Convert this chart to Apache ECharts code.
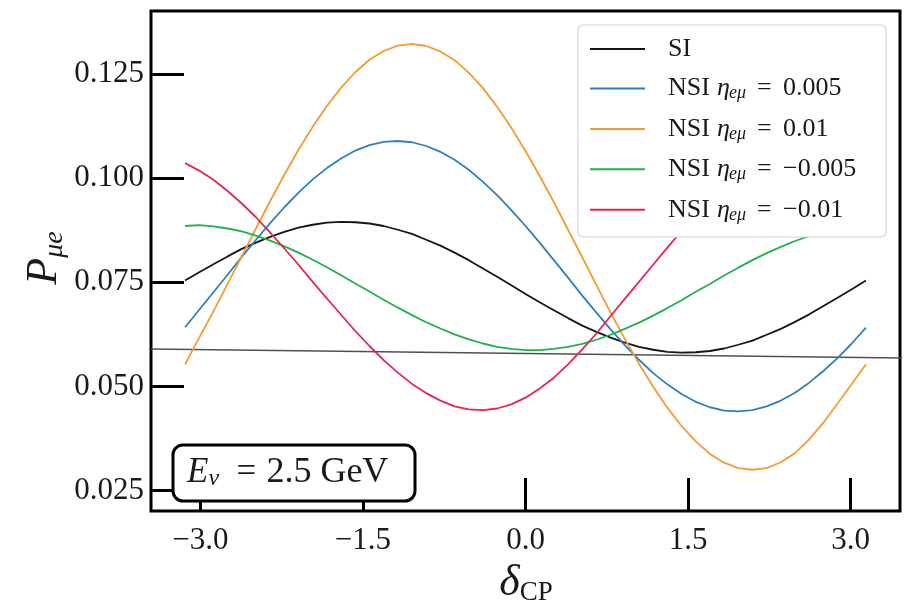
<!DOCTYPE html>
<html>
<head>
<meta charset="utf-8">
<script src="https://cdn.jsdelivr.net/npm/echarts@6/dist/echarts.min.js"></script>
<style>
html,body{margin:0;padding:0;background:#fff;}
#chart{width:904px;height:605px;}
</style>
</head>
<body>
<div id="chart"></div>
<script>
// ---- data (delta_CP in radians, step pi/24; P_mu_e) ----
const deltaCP = [
  -3.1416, -3.0107, -2.8798, -2.7489, -2.6180, -2.4871, -2.3562, -2.2253, -2.0944, -1.9635, -1.8326, -1.7017,
  -1.5708, -1.4399, -1.3090, -1.1781, -1.0472, -0.9163, -0.7854, -0.6545, -0.5236, -0.3927, -0.2618, -0.1309,
  0.0000, 0.1309, 0.2618, 0.3927, 0.5236, 0.6545, 0.7854, 0.9163, 1.0472, 1.1781, 1.3090, 1.4399,
  1.5708, 1.7017, 1.8326, 1.9635, 2.0944, 2.2253, 2.3562, 2.4871, 2.6180, 2.7489, 2.8798, 3.0107, 3.1416];
const pSI = [
  0.0754, 0.0774, 0.0793, 0.0812, 0.0830, 0.0845, 0.0859, 0.0871, 0.0881, 0.0888, 0.0893, 0.0895,
  0.0894, 0.0891, 0.0885, 0.0876, 0.0866, 0.0852, 0.0838, 0.0821, 0.0803, 0.0783, 0.0763, 0.0743,
  0.0722, 0.0702, 0.0683, 0.0664, 0.0646, 0.0631, 0.0617, 0.0605, 0.0595, 0.0588, 0.0583, 0.0581,
  0.0582, 0.0585, 0.0591, 0.0600, 0.0610, 0.0624, 0.0638, 0.0655, 0.0673, 0.0693, 0.0713, 0.0733, 0.0754];
const pNSIp005 = [
  0.0642, 0.0684, 0.0726, 0.0768, 0.0811, 0.0852, 0.0892, 0.0930, 0.0965, 0.0997, 0.1024, 0.1047,
  0.1066, 0.1079, 0.1087, 0.1089, 0.1086, 0.1077, 0.1063, 0.1044, 0.1020, 0.0991, 0.0959, 0.0923,
  0.0885, 0.0845, 0.0803, 0.0761, 0.0718, 0.0677, 0.0637, 0.0599, 0.0564, 0.0532, 0.0505, 0.0482,
  0.0463, 0.0450, 0.0442, 0.0440, 0.0443, 0.0452, 0.0466, 0.0485, 0.0509, 0.0537, 0.0568, 0.0603, 0.0641];
const pNSIp01 = [
  0.0553, 0.0617, 0.0680, 0.0746, 0.0812, 0.0879, 0.0945, 0.1008, 0.1068, 0.1123, 0.1173, 0.1217,
  0.1254, 0.1284, 0.1305, 0.1318, 0.1322, 0.1317, 0.1304, 0.1283, 0.1253, 0.1216, 0.1171, 0.1121,
  0.1065, 0.1005, 0.0942, 0.0876, 0.0810, 0.0743, 0.0677, 0.0614, 0.0554, 0.0499, 0.0449, 0.0405,
  0.0368, 0.0338, 0.0317, 0.0304, 0.0300, 0.0304, 0.0318, 0.0340, 0.0373, 0.0413, 0.0459, 0.0506, 0.0553];
const pNSIm005 = [
  0.0885, 0.0887, 0.0884, 0.0879, 0.0872, 0.0862, 0.0850, 0.0836, 0.0821, 0.0804, 0.0786, 0.0767,
  0.0747, 0.0728, 0.0708, 0.0689, 0.0671, 0.0654, 0.0639, 0.0625, 0.0613, 0.0603, 0.0595, 0.0590,
  0.0587, 0.0587, 0.0590, 0.0595, 0.0602, 0.0612, 0.0624, 0.0638, 0.0653, 0.0670, 0.0688, 0.0707,
  0.0727, 0.0746, 0.0766, 0.0785, 0.0803, 0.0820, 0.0835, 0.0849, 0.0861, 0.0871, 0.0879, 0.0884, 0.0885];
const pNSIm01 = [
  0.1036, 0.1018, 0.0996, 0.0969, 0.0939, 0.0906, 0.0869, 0.0831, 0.0792, 0.0751, 0.0711, 0.0672,
  0.0633, 0.0597, 0.0563, 0.0533, 0.0506, 0.0484, 0.0466, 0.0452, 0.0445, 0.0443, 0.0447, 0.0457,
  0.0473, 0.0495, 0.0521, 0.0553, 0.0589, 0.0627, 0.0669, 0.0710, 0.0751, 0.0792, 0.0833, 0.0873,
  0.0910, 0.0945, 0.0977, 0.1005, 0.1029, 0.1048, 0.1062, 0.1071, 0.1075, 0.1073, 0.1066, 0.1053, 0.1036];
const refLineX = [-3.4558, 3.4835];
const refLineY = [0.0590, 0.0568];
const xTicks = [-3.0, -1.5, 0.0, 1.5, 3.0];
const yTicks = [0.025, 0.050, 0.075, 0.100, 0.125];
const seriesNames = ['SI', 'NSI eta 0.005', 'NSI eta 0.01', 'NSI eta -0.005', 'NSI eta -0.01'];
const legendValues = ['', '0.005', '0.01', '\u22120.005', '\u22120.01'];
const seriesColors = ['#151515', '#2f7fbd', '#f59a34', '#22b04d', '#e2284f'];
const seriesData = [pSI, pNSIp005, pNSIp01, pNSIm005, pNSIm01];

const FONT = '"Liberation Serif", "DejaVu Serif", serif';
const TXT = '#1a1a1a';
const pair = (xs, ys) => xs.map((x, i) => [x, ys[i]]);

const series = seriesNames.map((n, k) => ({
  name: n, type: 'line', data: pair(deltaCP, seriesData[k]),
  smooth: false, showSymbol: false, symbol: 'none',
  lineStyle: { color: seriesColors[k], width: 1.8, join: 'round' },
  itemStyle: { color: seriesColors[k] },
  z: 3
}));
series.push({
  name: 'ref', type: 'line', data: pair(refLineX, refLineY),
  showSymbol: false, symbol: 'none', clip: false,
  lineStyle: { color: '#505050', width: 1.5 }, z: 2
});

const chart = echarts.init(document.getElementById('chart'), null, { renderer: 'canvas' });
chart.setOption({
  animation: false,
  backgroundColor: '#fff',
  grid: { left: 151, right: 4, top: 11, bottom: 94, show: true, borderColor: '#000', borderWidth: 3, backgroundColor: 'transparent' },
  xAxis: {
    type: 'value', min: -3.4558, max: 3.4558,
    axisLine: { show: false, onZero: false },
    splitLine: { show: false },
    axisTick: { show: true, inside: true, length: 33, customValues: xTicks, lineStyle: { color: '#000', width: 3 } },
    axisLabel: { customValues: xTicks, margin: 14, fontFamily: FONT, fontSize: 31, color: TXT, lineHeight: 31,
      formatter: v => (v < 0 ? '\u2212' : '') + Math.abs(v).toFixed(1) }
  },
  yAxis: {
    type: 'value', min: 0.0201, max: 0.1401,
    axisLine: { show: false, onZero: false },
    splitLine: { show: false },
    axisTick: { show: true, inside: true, length: 33, customValues: yTicks, lineStyle: { color: '#000', width: 3 } },
    axisLabel: { customValues: yTicks, margin: 7, fontFamily: FONT, fontSize: 31, color: TXT,
      formatter: v => v.toFixed(3) }
  },
  legend: {
    data: seriesNames, orient: 'vertical', left: 590, top: 36, padding: 0,
    itemWidth: 55, itemHeight: 2, itemGap: 12.45, icon: 'rect', z: 20,
    formatter: name => {
      const k = seriesNames.indexOf(name);
      if (k === 0) return '{n|SI}';
      return '{n|NSI}{i|\u03b7}{s|e\u03bc}{e|=}{v|' + legendValues[k] + '}';
    },
    textStyle: {
      padding: [0, 0, 0, 18],
      rich: {
        n: { fontFamily: FONT, fontSize: 26, color: TXT, lineHeight: 28, width: 49, align: 'left' },
        i: { fontFamily: FONT, fontSize: 26, fontStyle: 'italic', color: TXT, lineHeight: 28, width: 12, align: 'left' },
        s: { fontFamily: FONT, fontSize: 18, fontStyle: 'italic', color: TXT, lineHeight: 18, padding: [10, 0, 0, 0], width: 28, align: 'left' },
        e: { fontFamily: FONT, fontSize: 26, color: TXT, lineHeight: 28, width: 26, align: 'left' },
        v: { fontFamily: FONT, fontSize: 26, color: TXT, lineHeight: 28 }
      }
    }
  },
  graphic: [
    { type: 'rect', z: 10, shape: { x: 578, y: 25, width: 308, height: 212, r: 5 },
      style: { fill: '#ffffff', stroke: '#d4d4d4', lineWidth: 1.2 } },
    { type: 'rect', z: 10, shape: { x: 173, y: 445, width: 242, height: 56, r: 10 },
      style: { fill: '#ffffff', stroke: '#000', lineWidth: 3 } },
    { type: 'text', z: 11, x: 187, y: 473,
      style: { text: '{i|E}{s|\u03bd}{e|=}{r|2.5 GeV}', align: 'left', verticalAlign: 'middle', textAlign: 'left', textVerticalAlign: 'middle',
        rich: {
          i: { fontFamily: FONT, fontSize: 35, fontStyle: 'italic', fill: TXT, color: TXT, lineHeight: 36 },
          s: { fontFamily: FONT, fontSize: 24, fontStyle: 'italic', fill: TXT, color: TXT, lineHeight: 24, padding: [12, 0, 0, 0], width: 28, align: 'left' },
          e: { fontFamily: FONT, fontSize: 35, fill: TXT, color: TXT, lineHeight: 36, width: 30, align: 'left' },
          r: { fontFamily: FONT, fontSize: 36, fill: TXT, color: TXT, lineHeight: 36 }
        } } },
    { type: 'text', z: 11, x: 526, y: 583,
      style: { text: '{d|\u03b4}{s|CP}', align: 'center', verticalAlign: 'middle', textAlign: 'center', textVerticalAlign: 'middle',
        rich: {
          d: { fontFamily: FONT, fontSize: 44, fontStyle: 'italic', fill: TXT, color: TXT, lineHeight: 44 },
          s: { fontFamily: FONT, fontSize: 27, fill: TXT, color: TXT, lineHeight: 27, padding: [20, 0, 0, 0] }
        } } },
    { type: 'text', z: 11, x: 44, y: 258, rotation: Math.PI / 2,
      style: { text: '{p|P}{s|\u03bce}', align: 'center', verticalAlign: 'middle', textAlign: 'center', textVerticalAlign: 'middle',
        rich: {
          p: { fontFamily: FONT, fontSize: 44, fontStyle: 'italic', fill: TXT, color: TXT, lineHeight: 44 },
          s: { fontFamily: FONT, fontSize: 28, fontStyle: 'italic', fill: TXT, color: TXT, lineHeight: 28, padding: [22, 0, 0, 0] }
        } } }
  ],
  series: series
});
</script>
</body>
</html>
